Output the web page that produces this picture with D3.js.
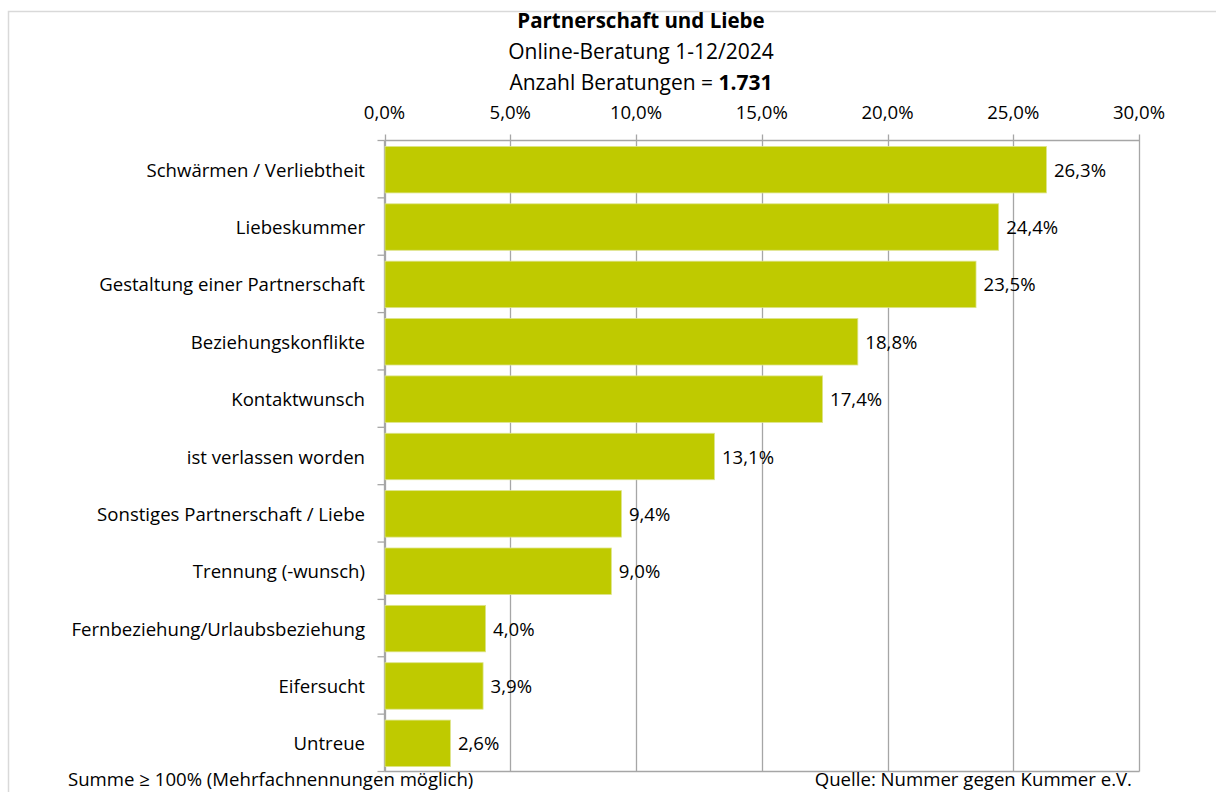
<!DOCTYPE html>
<html>
<head>
<meta charset="utf-8">
<script src="https://cdn.jsdelivr.net/npm/d3@7"></script>
<style>
  body { margin: 0; background: #fff; }
  text { font-family: "Open Sans", sans-serif; fill: #000; }
</style>
</head>
<body>
<script>
// categories and values (share of counselling sessions)
const categories = [
  "Schwärmen / Verliebtheit",
  "Liebeskummer",
  "Gestaltung einer Partnerschaft",
  "Beziehungskonflikte",
  "Kontaktwunsch",
  "ist verlassen worden",
  "Sonstiges Partnerschaft / Liebe",
  "Trennung (-wunsch)",
  "Fernbeziehung/Urlaubsbeziehung",
  "Eifersucht",
  "Untreue"
]
const values = [26.3, 24.4, 23.5, 18.8, 17.4, 13.1, 9.4, 9.0, 4.0, 3.9, 2.6]
const tickValues = [0, 5, 10, 15, 20, 25, 30]

const data = categories.map(function(c, i) { return {cat: c, val: values[i]} })

const W = 1216, H = 792
const plot = {left: 384.5, right: 1139, top: 140.5, bottom: 771.5}
const labelSize = "18.6px"

const svg = d3.select("body")
    .append("svg")
    .attr("width", W)
    .attr("height", H)

// outer chart border
svg.append("rect")
    .attr("x", 8.5).attr("y", 11.5)
    .attr("width", 1230).attr("height", 820)
    .attr("fill", "none")
    .attr("stroke", "#d9d9d9")
    .attr("stroke-width", 1.5)

// titles
svg.append("text")
    .attr("x", 641).attr("y", 28)
    .attr("text-anchor", "middle")
    .style("font-size", "20.5px").style("font-weight", "bold")
    .text("Partnerschaft und Liebe")
svg.append("text")
    .attr("x", 641).attr("y", 59)
    .attr("text-anchor", "middle")
    .style("font-size", "21px")
    .text("Online-Beratung 1-12/2024")
const t3 = svg.append("text")
    .attr("x", 641).attr("y", 90)
    .attr("text-anchor", "middle")
    .style("font-size", "21px")
t3.append("tspan").text("Anzahl Beratungen = ")
t3.append("tspan").style("font-weight", "bold").text("1.731")

// scales
const x = d3.scaleLinear()
    .domain([0, 30])
    .range([plot.left, plot.right])

const y = d3.scaleBand()
    .domain(categories)
    .range([plot.top, plot.bottom])
    .paddingInner(0.19)
    .paddingOuter(0.095)

// gridlines
svg.append("g")
    .selectAll("line")
    .data(tickValues)
    .enter()
    .append("line")
        .attr("x1", function(d) { return Math.round(x(d)) + 0.5 })
        .attr("x2", function(d) { return Math.round(x(d)) + 0.5 })
        .attr("y1", plot.top - 6)
        .attr("y2", plot.bottom)
        .attr("stroke", "#a6a6a6")
        .attr("stroke-width", 1.3)

// top and bottom frame lines
svg.append("line")
    .attr("x1", plot.left).attr("x2", plot.right + 0.5)
    .attr("y1", plot.top).attr("y2", plot.top)
    .attr("stroke", "#a6a6a6").attr("stroke-width", 1.3)
svg.append("line")
    .attr("x1", plot.left).attr("x2", plot.right + 0.5)
    .attr("y1", plot.bottom).attr("y2", plot.bottom)
    .attr("stroke", "#a6a6a6").attr("stroke-width", 1.3)

// tick labels on top
svg.append("g")
    .selectAll("text")
    .data(tickValues)
    .enter()
    .append("text")
        .attr("x", function(d) { return x(d) })
        .attr("y", 119)
        .attr("text-anchor", "middle")
        .style("font-size", labelSize)
        .text(function(d) { return d.toFixed(1).replace(".", ",") + "%" })

// left axis line and ticks between categories
svg.append("line")
    .attr("x1", plot.left).attr("x2", plot.left)
    .attr("y1", plot.top).attr("y2", plot.bottom)
    .attr("stroke", "#a6a6a6").attr("stroke-width", 1.3)
const step = y.step()
svg.append("g")
    .selectAll("line")
    .data(d3.range(categories.length + 1))
    .enter()
    .append("line")
        .attr("x1", plot.left - 7)
        .attr("x2", plot.left)
        .attr("y1", function(i) { return plot.top + i * step })
        .attr("y2", function(i) { return plot.top + i * step })
        .attr("stroke", "#a6a6a6").attr("stroke-width", 1.3)

// bars
svg.selectAll("rect.bar")
    .data(data)
    .enter()
    .append("rect")
        .attr("class", "bar")
        .attr("x", x(0) + 0.5)
        .attr("y", function(d) { return y(d.cat) + 0.5 })
        .attr("width", function(d) { return x(d.val) - x(0) })
        .attr("height", y.bandwidth())
        .attr("fill", "#bfca00")
        .attr("stroke", "#dde48a")
        .attr("stroke-width", 0.8)

// value labels
svg.selectAll("text.val")
    .data(data)
    .enter()
    .append("text")
        .attr("class", "val")
        .attr("x", function(d) { return x(d.val) + 8 })
        .attr("y", function(d) { return y(d.cat) + y.bandwidth() / 2 + 1 })
        .attr("dy", "0.35em")
        .style("font-size", labelSize)
        .text(function(d) { return d.val.toFixed(1).replace(".", ",") + "%" })

// category labels
svg.selectAll("text.cat")
    .data(data)
    .enter()
    .append("text")
        .attr("class", "cat")
        .attr("x", 365)
        .attr("y", function(d) { return y(d.cat) + y.bandwidth() / 2 + 1 })
        .attr("dy", "0.35em")
        .attr("text-anchor", "end")
        .style("font-size", labelSize)
        .text(function(d) { return d.cat })

// footer notes (raised a little so descenders stay inside the picture)
svg.append("text")
    .attr("x", 68).attr("y", 786)
    .style("font-size", labelSize)
    .text("Summe \u2265 100% (Mehrfachnennungen möglich)")
svg.append("text")
    .attr("x", 1132).attr("y", 786)
    .attr("text-anchor", "end")
    .style("font-size", labelSize)
    .text("Quelle: Nummer gegen Kummer e.V.")
</script>
</body>
</html>
